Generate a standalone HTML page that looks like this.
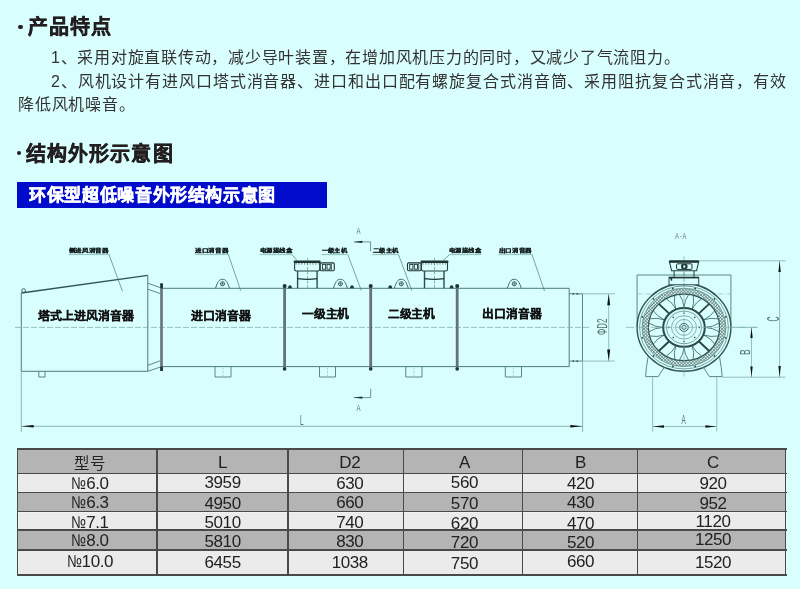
<!DOCTYPE html>
<html lang="zh-CN">
<head>
<meta charset="utf-8">
<style>
html,body{margin:0;padding:0;}
body{width:800px;height:589px;overflow:hidden;background:#d9fefe;position:relative;font-family:"Liberation Sans",sans-serif;color:#2a2a2a;}
.h{position:absolute;will-change:transform;font-weight:bold;font-size:20px;letter-spacing:1.1px;color:#231f20;white-space:nowrap;-webkit-text-stroke:0.5px #231f20;}
.dot{position:absolute;width:4.2px;height:4.2px;border-radius:50%;background:#231f20;}
.p{position:absolute;font-size:16px;color:#333;white-space:nowrap;will-change:transform;}
.bar{position:absolute;left:17px;top:181.7px;width:310px;height:26px;background:#000bcc;}
.bar span{position:absolute;will-change:transform;left:12.3px;top:-0.6px;color:#fff;font-weight:bold;font-size:17px;letter-spacing:0.65px;white-space:nowrap;-webkit-text-stroke:0.45px #fff;}
#tbl div{position:absolute;}
.rg{left:17.2px;width:768.5px;background:#b4b4b4;}
.rl{left:17.2px;width:768.5px;background:#ebebeb;box-shadow:inset 0 1px 0 #f3f3f3, inset 0 -1px 0 #f6f6f6;}
.hl{left:16.5px;width:770px;height:1.3px;background:#4a4a4a;}
.vl{top:448.3px;height:127.2px;width:1.3px;background:#4a4a4a;}
.c{will-change:transform;font-size:17px;line-height:20px;height:20px;margin-top:-3.3px;text-align:center;color:#222;letter-spacing:-0.4px;white-space:nowrap;}
.no{display:inline-block;width:15px;transform:scaleX(0.82);transform-origin:0 0;letter-spacing:0;}
svg{position:absolute;left:0;top:0;will-change:transform;}
</style>
</head>
<body>
<div class="dot" style="left:18.4px;top:24.5px;"></div>
<div class="h" style="left:27.7px;top:11.3px;">产品特点</div>
<div class="p" style="left:51px;top:43.7px;letter-spacing:0.75px;">1、采用对旋直联传动，减少导叶装置，在增加风机压力的同时，又减少了气流阻力。</div>
<div class="p" style="left:51px;top:67.6px;letter-spacing:0.89px;">2、风机设计有进风口塔式消音器、进口和出口配有螺旋复合式消音筒、采用阻抗复合式消音，有效</div>
<div class="p" style="left:18px;top:90.6px;letter-spacing:0.8px;">降低风机噪音。</div>
<div class="dot" style="left:16.5px;top:151.3px;"></div>
<div class="h" style="left:26px;top:138.2px;">结构外形示意图</div>
<div class="bar"><span>环保型超低噪音外形结构示意图</span></div>
<svg width="800" height="589" viewBox="0 0 800 589">
<path d="M21.3,293 L147.8,275.4" stroke="#2f5553" stroke-width="1.3" fill="none"/>
<path d="M21.3,293 L21.3,371.3 L147.8,371.3 L147.8,275.4" stroke="#4a7d79" stroke-width="1" fill="none"/>
<circle cx="23.6" cy="290.6" r="1.9" stroke="#2f5553" stroke-width="0.9" fill="none"/>
<line x1="147.8" y1="283.2" x2="160.2" y2="287.6" stroke="#4a7d79" stroke-width="0.9"/>
<line x1="147.8" y1="289.2" x2="160.2" y2="293.6" stroke="#4a7d79" stroke-width="0.9"/>
<line x1="147.8" y1="365.3" x2="160.2" y2="360.8" stroke="#4a7d79" stroke-width="0.9"/>
<line x1="147.8" y1="371.3" x2="160.2" y2="367.1" stroke="#4a7d79" stroke-width="0.9"/>
<path d="M162.6,288.3 H569.2 V366.6 H162.6" stroke="#4a7d79" stroke-width="1" fill="none"/>
<path d="M569.2,293.8 H582.5 V361.1 H569.2" stroke="#4a7d79" stroke-width="0.9" fill="none"/>
<path d="M572.5,293.8 h1.6 M576.5,293.8 h1.6 M572.5,361.1 h1.6 M576.5,361.1 h1.6" stroke="#1f3433" stroke-width="1.2"/>
<line x1="15" y1="327.4" x2="589" y2="327.4" stroke="#7fb0ac" stroke-width="0.8" stroke-dasharray="6 2"/>
<rect x="160.20" y="283.4" width="2.6" height="87.60000000000002" fill="#65727a"/>
<rect x="160.3" y="283.4" width="2.6" height="5" fill="#1f3433"/>
<rect x="160.3" y="366.5" width="2.6" height="4.5" fill="#1f3433"/>
<rect x="283.20" y="286" width="2.8" height="83.5" fill="#65727a"/>
<circle cx="284.6" cy="285.9" r="2" fill="#1f3433"/>
<circle cx="284.6" cy="369.0" r="1.8" fill="#1f3433"/>
<rect x="369.30" y="286" width="2.8" height="83.5" fill="#65727a"/>
<circle cx="370.7" cy="285.9" r="2" fill="#1f3433"/>
<circle cx="370.7" cy="369.0" r="1.8" fill="#1f3433"/>
<rect x="455.80" y="286" width="2.8" height="83.5" fill="#65727a"/>
<circle cx="457.2" cy="285.9" r="2" fill="#1f3433"/>
<circle cx="457.2" cy="369.0" r="1.8" fill="#1f3433"/>
<path d="M288.1,288.3 Q288.1,285.2 290.0,285.2 Q291.9,285.2 291.9,288.3 Z" fill="#1f3433"/>
<path d="M350.1,288.3 Q350.1,285.2 352.0,285.2 Q353.9,285.2 353.9,288.3 Z" fill="#1f3433"/>
<path d="M388.3,288.3 Q388.3,285.2 390.2,285.2 Q392.09999999999997,285.2 392.09999999999997,288.3 Z" fill="#1f3433"/>
<path d="M449.70000000000005,288.3 Q449.70000000000005,285.2 451.6,285.2 Q453.5,285.2 453.5,288.3 Z" fill="#1f3433"/>
<path d="M215.5,288.3 C217.5,282 219.0,279.3 222.5,279.3 C226.0,279.3 227.5,282 229.5,288.3" stroke="#3d6a67" stroke-width="1" fill="none"/>
<circle cx="222.5" cy="283.8" r="2.1" stroke="#34605d" stroke-width="0.9" fill="none"/>
<path d="M220.4,283.8 H224.6 M222.5,281.7 V285.9" stroke="#34605d" stroke-width="0.7"/>
<path d="M333.4,288.3 C335.4,282 336.9,279.3 340.4,279.3 C343.9,279.3 345.4,282 347.4,288.3" stroke="#3d6a67" stroke-width="1" fill="none"/>
<circle cx="340.4" cy="283.8" r="2.1" stroke="#34605d" stroke-width="0.9" fill="none"/>
<path d="M338.29999999999995,283.8 H342.5 M340.4,281.7 V285.9" stroke="#34605d" stroke-width="0.7"/>
<path d="M394.3,288.3 C396.3,282 397.8,279.3 401.3,279.3 C404.8,279.3 406.3,282 408.3,288.3" stroke="#3d6a67" stroke-width="1" fill="none"/>
<circle cx="401.3" cy="283.8" r="2.1" stroke="#34605d" stroke-width="0.9" fill="none"/>
<path d="M399.2,283.8 H403.40000000000003 M401.3,281.7 V285.9" stroke="#34605d" stroke-width="0.7"/>
<path d="M507.29999999999995,288.3 C509.29999999999995,282 510.79999999999995,279.3 514.3,279.3 C517.8,279.3 519.3,282 521.3,288.3" stroke="#3d6a67" stroke-width="1" fill="none"/>
<circle cx="514.3" cy="283.8" r="2.1" stroke="#34605d" stroke-width="0.9" fill="none"/>
<path d="M512.1999999999999,283.8 H516.4 M514.3,281.7 V285.9" stroke="#34605d" stroke-width="0.7"/>
<path d="M38.8,371.3 V377 H45 V371.3" stroke="#4a7d79" stroke-width="0.9" fill="none"/>
<path d="M215,366.6 V377 H231 V366.6" stroke="#4a7d79" stroke-width="0.9" fill="none"/>
<line x1="223.0" y1="367.6" x2="223.0" y2="376" stroke="#7fb0ac" stroke-width="0.6" stroke-dasharray="2 1.5"/>
<path d="M319.5,366.6 V377 H335.5 V366.6" stroke="#4a7d79" stroke-width="0.9" fill="none"/>
<line x1="327.5" y1="367.6" x2="327.5" y2="376" stroke="#7fb0ac" stroke-width="0.6" stroke-dasharray="2 1.5"/>
<path d="M405.8,366.6 V377 H422 V366.6" stroke="#4a7d79" stroke-width="0.9" fill="none"/>
<line x1="413.9" y1="367.6" x2="413.9" y2="376" stroke="#7fb0ac" stroke-width="0.6" stroke-dasharray="2 1.5"/>
<path d="M505.3,366.6 V377 H521.5 V366.6" stroke="#4a7d79" stroke-width="0.9" fill="none"/>
<line x1="513.4" y1="367.6" x2="513.4" y2="376" stroke="#7fb0ac" stroke-width="0.6" stroke-dasharray="2 1.5"/>
<rect x="320.20" y="262.9" width="14.10" height="7.8" rx="1.2" stroke="#1f3433" stroke-width="1.1" fill="#d9fefe"/>
<rect x="322.40" y="264.4" width="3.2" height="4.8" stroke="#1f3433" stroke-width="0.9" fill="none"/>
<rect x="327.00" y="264.4" width="3.2" height="4.8" stroke="#1f3433" stroke-width="0.9" fill="none"/>
<line x1="331.40" y1="263.5" x2="331.40" y2="270" stroke="#1f3433" stroke-width="0.8"/>
<path d="M294.6,262 V269.3 Q294.6,271 296.3,271 H318.0 Q319.7,271 319.7,269.3 V262" stroke="#27403e" stroke-width="1.1" fill="#d9fefe"/>
<rect x="293.6" y="260.4" width="27.099999999999966" height="2.5" rx="1.1" fill="#1f3433"/>
<line x1="295.6" y1="263.9" x2="318.7" y2="263.9" stroke="#1f3433" stroke-width="0.8" stroke-dasharray="1.2 1.6"/>
<path d="M297.6,271 V288.3 M317.1,271 V288.3" stroke="#2f4e4c" stroke-width="1.4" fill="none"/>
<path d="M297.6,278.6 Q307.6,280.2 317.1,278.6" stroke="#1f3433" stroke-width="1.4" fill="none"/>
<line x1="307.6" y1="258" x2="307.6" y2="288" stroke="#4a7d79" stroke-width="0.6" stroke-dasharray="3 1.5"/>
<rect x="407.50" y="262.9" width="13.50" height="7.8" rx="1.2" stroke="#1f3433" stroke-width="1.1" fill="#d9fefe"/>
<rect x="409.70" y="264.4" width="3.2" height="4.8" stroke="#1f3433" stroke-width="0.9" fill="none"/>
<rect x="414.30" y="264.4" width="3.2" height="4.8" stroke="#1f3433" stroke-width="0.9" fill="none"/>
<line x1="418.70" y1="263.5" x2="418.70" y2="270" stroke="#1f3433" stroke-width="0.8"/>
<path d="M421.5,262 V269.3 Q421.5,271 423.2,271 H445.8 Q447.5,271 447.5,269.3 V262" stroke="#27403e" stroke-width="1.1" fill="#d9fefe"/>
<rect x="420.5" y="260.4" width="28.0" height="2.5" rx="1.1" fill="#1f3433"/>
<line x1="422.5" y1="263.9" x2="446.5" y2="263.9" stroke="#1f3433" stroke-width="0.8" stroke-dasharray="1.2 1.6"/>
<path d="M424.5,271 V288.3 M444.0,271 V288.3" stroke="#2f4e4c" stroke-width="1.4" fill="none"/>
<path d="M424.5,278.6 Q434.5,280.2 444.0,278.6" stroke="#1f3433" stroke-width="1.4" fill="none"/>
<line x1="434.5" y1="258" x2="434.5" y2="288" stroke="#4a7d79" stroke-width="0.6" stroke-dasharray="3 1.5"/>
<path d="M353.8,241.9 H370.6 V251.3" stroke="#4a7d79" stroke-width="0.8" fill="none"/>
<path d="M353.8,241.9 L362.2,240.8 Q362.8,241.9 362.2,243 Z" fill="#1f3433"/>
<path d="M353.8,397.6 H370.7 V388.8" stroke="#4a7d79" stroke-width="0.8" fill="none"/>
<path d="M353.8,397.6 L362.2,396.5 Q362.8,397.6 362.2,398.7 Z" fill="#1f3433"/>
<line x1="21.3" y1="371.3" x2="21.3" y2="432" stroke="#7fb0ac" stroke-width="0.9"/>
<line x1="582.6" y1="361.2" x2="582.6" y2="432" stroke="#7fb0ac" stroke-width="0.9"/>
<line x1="21.3" y1="426.3" x2="582.6" y2="426.3" stroke="#7fb0ac" stroke-width="0.9"/>
<path d="M21.5,426.3 L33.5,425 Q34.3,426.3 33.5,427.6 Z" fill="#111"/>
<path d="M582.4,426.3 L570.5,425 Q569.7,426.3 570.5,427.6 Z" fill="#111"/>
<line x1="582.6" y1="293.8" x2="614.8" y2="293.8" stroke="#7fb0ac" stroke-width="0.8"/>
<line x1="582.6" y1="361.1" x2="614.8" y2="361.1" stroke="#7fb0ac" stroke-width="0.8"/>
<line x1="608.7" y1="293.8" x2="608.7" y2="361.1" stroke="#7fb0ac" stroke-width="0.8"/>
<path d="M608.7,294 L607.2,305.3 L610.2,305.3 Z" fill="#111"/>
<path d="M608.7,360.9 L607.2,349.6 L610.2,349.6 Z" fill="#111"/>
<line x1="108.8" y1="254" x2="122.5" y2="291.3" stroke="#4a7d79" stroke-width="0.7"/>
<line x1="228.2" y1="254" x2="240.7" y2="290.7" stroke="#4a7d79" stroke-width="0.7"/>
<line x1="292" y1="254.8" x2="297.4" y2="260.7" stroke="#4a7d79" stroke-width="0.7"/>
<line x1="347.8" y1="254.6" x2="361.3" y2="290.6" stroke="#4a7d79" stroke-width="0.7"/>
<line x1="398.5" y1="254.6" x2="411.9" y2="290.6" stroke="#4a7d79" stroke-width="0.7"/>
<line x1="450" y1="254" x2="443" y2="260.5" stroke="#4a7d79" stroke-width="0.7"/>
<line x1="531.8" y1="254" x2="544.5" y2="291" stroke="#4a7d79" stroke-width="0.7"/>
<path d="M637.1,327.4 V275 H730.9 V327.4" stroke="#4a7d79" stroke-width="0.9" fill="none"/>
<line x1="637" y1="294" x2="731" y2="294" stroke="#7fb0ac" stroke-width="0.6" stroke-dasharray="5 1.5 1 1.5"/>
<ellipse cx="684.0" cy="327.4" rx="46.9" ry="43.85" fill="#d9fefe"/>
<defs><pattern id="hp" width="2.3" height="2.3" patternUnits="userSpaceOnUse" patternTransform="rotate(45)"><rect width="2.3" height="2.3" fill="#d6f0ee"/><rect width="0.65" height="2.3" fill="#61837f"/><rect width="2.3" height="0.65" fill="#61837f"/></pattern></defs>
<path fill-rule="evenodd" fill="url(#hp)" d="M642.1,327.4 a41.9,39.18 0 1,0 83.8,0 a41.9,39.18 0 1,0 -83.8,0 Z M648.4,327.4 a35.6,33.29 0 1,0 71.2,0 a35.6,33.29 0 1,0 -71.2,0 Z"/>
<ellipse cx="684.0" cy="327.4" rx="46.9" ry="43.85" stroke="#2f5553" stroke-width="1.4" fill="none" />
<ellipse cx="684.0" cy="327.4" rx="44.4" ry="41.51" stroke="#4a7d79" stroke-width="0.7" fill="none" />
<ellipse cx="684.0" cy="327.4" rx="41.9" ry="39.18" stroke="#4a7d79" stroke-width="0.7" fill="none" />
<ellipse cx="684.0" cy="327.4" rx="35.6" ry="33.29" stroke="#2f5553" stroke-width="1.2" fill="none" />
<path d="M684.00,347.32 Q684.57,354.79 688.58,360.13 M684.00,347.32 Q683.43,354.79 679.42,360.13" stroke="#3b6865" stroke-width="0.85" fill="none"/>
<path d="M675.85,345.80 Q673.32,352.91 674.83,359.27 M675.85,345.80 Q672.26,352.50 666.38,356.00" stroke="#3b6865" stroke-width="0.85" fill="none"/>
<path d="M664.32,335.02 Q657.15,338.38 653.41,343.88 M664.32,335.02 Q656.72,337.39 649.91,335.97" stroke="#3b6865" stroke-width="0.85" fill="none"/>
<path d="M662.70,327.40 Q654.71,327.93 649.00,331.68 M662.70,327.40 Q654.71,326.87 649.00,323.12" stroke="#3b6865" stroke-width="0.85" fill="none"/>
<path d="M664.32,319.78 Q656.72,317.41 649.91,318.83 M664.32,319.78 Q657.15,316.42 653.41,310.92" stroke="#3b6865" stroke-width="0.85" fill="none"/>
<path d="M675.85,309.00 Q672.26,302.30 666.38,298.80 M675.85,309.00 Q673.32,301.89 674.83,295.53" stroke="#3b6865" stroke-width="0.85" fill="none"/>
<path d="M684.00,307.48 Q683.43,300.01 679.42,294.67 M684.00,307.48 Q684.57,300.01 688.58,294.67" stroke="#3b6865" stroke-width="0.85" fill="none"/>
<path d="M692.15,309.00 Q694.68,301.89 693.17,295.53 M692.15,309.00 Q695.74,302.30 701.62,298.80" stroke="#3b6865" stroke-width="0.85" fill="none"/>
<path d="M703.68,319.78 Q710.85,316.42 714.59,310.92 M703.68,319.78 Q711.28,317.41 718.09,318.83" stroke="#3b6865" stroke-width="0.85" fill="none"/>
<path d="M705.30,327.40 Q713.29,326.87 719.00,323.12 M705.30,327.40 Q713.29,327.93 719.00,331.68" stroke="#3b6865" stroke-width="0.85" fill="none"/>
<path d="M703.68,335.02 Q711.28,337.39 718.09,335.97 M703.68,335.02 Q710.85,338.38 714.59,343.88" stroke="#3b6865" stroke-width="0.85" fill="none"/>
<path d="M692.15,345.80 Q695.74,352.50 701.62,356.00 M692.15,345.80 Q694.68,352.91 693.17,359.27" stroke="#3b6865" stroke-width="0.85" fill="none"/>
<line x1="699.06" y1="341.48" x2="709.17" y2="350.94" stroke="#2a4644" stroke-width="1.9"/>
<line x1="668.94" y1="341.48" x2="658.83" y2="350.94" stroke="#2a4644" stroke-width="1.9"/>
<line x1="668.94" y1="313.32" x2="658.83" y2="303.86" stroke="#2a4644" stroke-width="1.9"/>
<line x1="699.06" y1="313.32" x2="709.17" y2="303.86" stroke="#2a4644" stroke-width="1.9"/>
<circle cx="725.73" cy="337.85" r="0.9" fill="#2a4644"/>
<circle cx="714.55" cy="355.96" r="0.9" fill="#2a4644"/>
<circle cx="695.18" cy="366.42" r="0.9" fill="#2a4644"/>
<circle cx="672.82" cy="366.42" r="0.9" fill="#2a4644"/>
<circle cx="653.45" cy="355.96" r="0.9" fill="#2a4644"/>
<circle cx="642.27" cy="337.85" r="0.9" fill="#2a4644"/>
<circle cx="642.27" cy="316.95" r="0.9" fill="#2a4644"/>
<circle cx="653.45" cy="298.84" r="0.9" fill="#2a4644"/>
<circle cx="672.82" cy="288.38" r="0.9" fill="#2a4644"/>
<circle cx="695.18" cy="288.38" r="0.9" fill="#2a4644"/>
<circle cx="714.55" cy="298.84" r="0.9" fill="#2a4644"/>
<circle cx="725.73" cy="316.95" r="0.9" fill="#2a4644"/>
<ellipse cx="684.0" cy="327.4" rx="20.8" ry="19.45" fill="#d9fefe"/>
<ellipse cx="684.0" cy="327.4" rx="20.8" ry="19.45" stroke="#2a4a48" stroke-width="2.0" fill="none" />
<ellipse cx="684.0" cy="327.4" rx="17.4" ry="16.27" stroke="#4a7d79" stroke-width="0.7" fill="none" />
<ellipse cx="684.0" cy="327.4" rx="12.5" ry="11.69" stroke="#4a7d79" stroke-width="0.6" fill="none" />
<ellipse cx="684.0" cy="327.4" rx="8.5" ry="7.95" stroke="#4a7d79" stroke-width="0.6" fill="none" />
<ellipse cx="684.0" cy="327.4" rx="4.3" ry="4.02" stroke="#2a4a48" stroke-width="0.9" fill="none" />
<ellipse cx="684.0" cy="327.4" rx="2.2" ry="2.06" stroke="#2a4a48" stroke-width="0.8" fill="none" />
<circle cx="699.20" cy="327.40" r="0.8" fill="#2a4644"/>
<circle cx="694.75" cy="337.45" r="0.8" fill="#2a4644"/>
<circle cx="684.00" cy="341.61" r="0.8" fill="#2a4644"/>
<circle cx="673.25" cy="337.45" r="0.8" fill="#2a4644"/>
<circle cx="668.80" cy="327.40" r="0.8" fill="#2a4644"/>
<circle cx="673.25" cy="317.35" r="0.8" fill="#2a4644"/>
<circle cx="684.00" cy="313.19" r="0.8" fill="#2a4644"/>
<circle cx="694.75" cy="317.35" r="0.8" fill="#2a4644"/>
<line x1="626" y1="327.4" x2="757.4" y2="327.4" stroke="#7fb0ac" stroke-width="0.7" stroke-dasharray="8 1.5 1.5 1.5"/>
<line x1="684.0" y1="256" x2="684.0" y2="377" stroke="#7fb0ac" stroke-width="0.7" stroke-dasharray="8 1.5 1.5 1.5"/>
<path d="M648,357.2 Q646,368 645.6,376.6 H658.2 L664.2,367.4" stroke="#4a7d79" stroke-width="0.9" fill="none"/>
<path d="M719.6,357.2 Q721.6,368 722.2,376.6 H709.4 L703.4,367.4" stroke="#4a7d79" stroke-width="0.9" fill="none"/>
<rect x="669" y="277.2" width="29.7" height="7.6" stroke="#2f4e4c" stroke-width="1" fill="#d9fefe"/>
<line x1="669" y1="277.7" x2="698.7" y2="277.7" stroke="#1f3433" stroke-width="1.4"/>
<path d="M670,277.6 l2.2,0 l0,3.2 l-1.2,0 z" fill="#1f3433"/>
<path d="M674.1,270.8 V277.2 M694,270.8 V277.2" stroke="#2f4e4c" stroke-width="1.1" fill="none"/>
<path d="M669.4,261.6 H698.7 L696.6,270.8 H671.6 Z" stroke="#27403e" stroke-width="1.1" fill="#d9fefe"/>
<rect x="669.0" y="260.2" width="30.1" height="2.5" rx="1.1" fill="#1f3433"/>
<rect x="676.6" y="263.8" width="15.4" height="5.6" rx="1" stroke="#1f3433" stroke-width="1" fill="none"/>
<ellipse cx="684.3" cy="266.6" rx="3.3" ry="3" fill="#1f3433"/>
<ellipse cx="684.3" cy="266.6" rx="1.1" ry="1.5" fill="#cfeeee"/>
<line x1="684.0" y1="262" x2="684.0" y2="286" stroke="#4a7d79" stroke-width="0.6" stroke-dasharray="4 1.2"/>
<line x1="699" y1="260.8" x2="785.7" y2="260.8" stroke="#7fb0ac" stroke-width="0.8"/>
<line x1="722" y1="377.2" x2="785.4" y2="377.2" stroke="#7fb0ac" stroke-width="0.8"/>
<line x1="779.6" y1="260.8" x2="779.6" y2="377.2" stroke="#7fb0ac" stroke-width="0.8"/>
<path d="M779.6,261 L778.4,272 L780.8,272 Z" fill="#111"/>
<path d="M779.6,377 L778.4,366 L780.8,366 Z" fill="#111"/>
<line x1="751.5" y1="327.4" x2="751.5" y2="377.2" stroke="#7fb0ac" stroke-width="0.8"/>
<line x1="731" y1="327.3" x2="757.4" y2="327.3" stroke="#7fb0ac" stroke-width="0.8"/>
<path d="M751.5,327.6 L750.3,338 L752.7,338 Z" fill="#111"/>
<path d="M751.5,377 L750.3,366.5 L752.7,366.5 Z" fill="#111"/>
<line x1="652.6" y1="377" x2="652.6" y2="431.5" stroke="#7fb0ac" stroke-width="0.8"/>
<line x1="716.8" y1="377" x2="716.8" y2="431.5" stroke="#7fb0ac" stroke-width="0.8"/>
<line x1="652.6" y1="426.5" x2="716.8" y2="426.5" stroke="#7fb0ac" stroke-width="0.8"/>
<path d="M652.8,426.5 L664,425.3 L664,427.7 Z" fill="#111"/>
<path d="M716.6,426.5 L705.4,425.3 L705.4,427.7 Z" fill="#111"/>
<line x1="68.8" y1="254.6" x2="108.8" y2="254.6" stroke="#94c4c0" stroke-width="1"/>
<text x="0" y="0" transform="translate(68.8,251.7) scale(1,0.76)" font-family="Liberation Sans, sans-serif" font-size="6.6" font-weight="bold" fill="#142020" stroke="#142020" stroke-width="0.3" textLength="40.0" lengthAdjust="spacingAndGlyphs">侧进风消音器</text>
<line x1="195" y1="254.6" x2="228.3" y2="254.6" stroke="#94c4c0" stroke-width="1"/>
<text x="0" y="0" transform="translate(195,251.7) scale(1,0.76)" font-family="Liberation Sans, sans-serif" font-size="6.6" font-weight="bold" fill="#142020" stroke="#142020" stroke-width="0.3" textLength="33.3" lengthAdjust="spacingAndGlyphs">进口消音器</text>
<line x1="259.5" y1="254.6" x2="292.4" y2="254.6" stroke="#94c4c0" stroke-width="1"/>
<text x="0" y="0" transform="translate(259.5,251.7) scale(1,0.76)" font-family="Liberation Sans, sans-serif" font-size="6.6" font-weight="bold" fill="#142020" stroke="#142020" stroke-width="0.3" textLength="32.9" lengthAdjust="spacingAndGlyphs">电源接线盒</text>
<line x1="321.5" y1="254.6" x2="347.3" y2="254.6" stroke="#94c4c0" stroke-width="1"/>
<text x="0" y="0" transform="translate(321.5,251.7) scale(1,0.76)" font-family="Liberation Sans, sans-serif" font-size="6.6" font-weight="bold" fill="#142020" stroke="#142020" stroke-width="0.3" textLength="25.8" lengthAdjust="spacingAndGlyphs">一级主机</text>
<line x1="372.5" y1="254.6" x2="398.5" y2="254.6" stroke="#94c4c0" stroke-width="1"/>
<text x="0" y="0" transform="translate(372.5,251.7) scale(1,0.76)" font-family="Liberation Sans, sans-serif" font-size="6.6" font-weight="bold" fill="#142020" stroke="#142020" stroke-width="0.3" textLength="26.0" lengthAdjust="spacingAndGlyphs">二级主机</text>
<line x1="448.8" y1="254.6" x2="481.2" y2="254.6" stroke="#94c4c0" stroke-width="1"/>
<text x="0" y="0" transform="translate(448.8,251.7) scale(1,0.76)" font-family="Liberation Sans, sans-serif" font-size="6.6" font-weight="bold" fill="#142020" stroke="#142020" stroke-width="0.3" textLength="32.4" lengthAdjust="spacingAndGlyphs">电源接线盒</text>
<line x1="498.8" y1="254.6" x2="531.8" y2="254.6" stroke="#94c4c0" stroke-width="1"/>
<text x="0" y="0" transform="translate(498.8,251.7) scale(1,0.76)" font-family="Liberation Sans, sans-serif" font-size="6.6" font-weight="bold" fill="#142020" stroke="#142020" stroke-width="0.3" textLength="33.0" lengthAdjust="spacingAndGlyphs">出口消音器</text>
<text x="37.5" y="319.6" font-family="Liberation Sans, sans-serif" font-size="11.9" font-weight="bold" fill="#111" stroke="#111" stroke-width="0.25" textLength="96.4" lengthAdjust="spacingAndGlyphs">塔式上进风消音器</text>
<text x="191.2" y="319.6" font-family="Liberation Sans, sans-serif" font-size="11.9" font-weight="bold" fill="#111" stroke="#111" stroke-width="0.25" textLength="60.0" lengthAdjust="spacingAndGlyphs">进口消音器</text>
<text x="302" y="318.0" font-family="Liberation Sans, sans-serif" font-size="11.9" font-weight="bold" fill="#111" stroke="#111" stroke-width="0.25" textLength="47.3" lengthAdjust="spacingAndGlyphs">一级主机</text>
<text x="387.7" y="318.0" font-family="Liberation Sans, sans-serif" font-size="11.9" font-weight="bold" fill="#111" stroke="#111" stroke-width="0.25" textLength="47.3" lengthAdjust="spacingAndGlyphs">二级主机</text>
<text x="482.3" y="318.0" font-family="Liberation Sans, sans-serif" font-size="11.9" font-weight="bold" fill="#111" stroke="#111" stroke-width="0.25" textLength="59.4" lengthAdjust="spacingAndGlyphs">出口消音器</text>
<text x="356.6" y="234.4" font-family="Liberation Sans, sans-serif" font-size="8.6" fill="#4f6d6b" transform="translate(356.6,234.4) scale(0.7,1) translate(-356.6,-234.4)">A</text>
<text x="356.6" y="411.2" font-family="Liberation Sans, sans-serif" font-size="8.6" fill="#4f6d6b" transform="translate(356.6,411.2) scale(0.7,1) translate(-356.6,-411.2)">A</text>
<text x="0" y="0" font-family="Liberation Sans, sans-serif" font-size="14.6" fill="#4f6d6b" transform="translate(300.0,425) scale(0.44,1)">L</text>
<text x="674.9" y="239.3" font-family="Liberation Sans, sans-serif" font-size="9.2" fill="#4f6d6b" letter-spacing="1.6" transform="translate(674.9,239.3) scale(0.62,1) translate(-674.9,-239.3)">A-A</text>
<text x="681.6" y="424.4" font-family="Liberation Sans, sans-serif" font-size="12.5" fill="#4f6d6b" transform="translate(681.6,424.4) scale(0.5,1) translate(-681.6,-424.4)">A</text>
<text font-family="Liberation Sans, sans-serif" font-size="15.3" fill="#4f6d6b" transform="translate(606.9,335) rotate(-90) scale(0.52,1)">ΦD2</text>
<text font-family="Liberation Sans, sans-serif" font-size="15.5" fill="#4f6d6b" transform="translate(750.4,354.9) rotate(-90) scale(0.55,1)">B</text>
<text font-family="Liberation Sans, sans-serif" font-size="16.5" fill="#4f6d6b" transform="translate(778.8,321.6) rotate(-90) scale(0.42,1)">C</text>
</svg>
<div id="tbl">
<div class="rg" style="top:448.9px;height:24.4px;"></div>
<div class="rl" style="top:473.3px;height:19.4px;"></div>
<div class="rg" style="top:492.7px;height:18.8px;"></div>
<div class="rl" style="top:511.5px;height:18.4px;"></div>
<div class="rg" style="top:529.9px;height:20.2px;"></div>
<div class="rl" style="top:550.1px;height:24.8px;"></div>
<div class="hl" style="top:448.25px;"></div>
<div class="hl" style="top:472.65px;"></div>
<div class="hl" style="top:492.05px;"></div>
<div class="hl" style="top:510.85px;"></div>
<div class="hl" style="top:529.25px;"></div>
<div class="hl" style="top:549.45px;"></div>
<div class="hl" style="top:574.25px;"></div>
<div class="vl" style="left:16.55px;"></div>
<div class="vl" style="left:156.25px;"></div>
<div class="vl" style="left:287.45px;"></div>
<div class="vl" style="left:402.95px;"></div>
<div class="vl" style="left:521.85px;"></div>
<div class="vl" style="left:636.95px;"></div>
<div class="vl" style="left:785.05px;"></div>
<div class="c" style="left:20.20px;width:139.7px;top:456.9px;font-size:15.4px;letter-spacing:1.2px;">型号</div>
<div class="c" style="left:156.90px;width:131.2px;top:456.4px;">L</div>
<div class="c" style="left:291.85px;width:115.5px;top:456.4px;">D2</div>
<div class="c" style="left:405.35px;width:118.9px;top:456.4px;">A</div>
<div class="c" style="left:523.00px;width:115.1px;top:456.4px;">B</div>
<div class="c" style="left:638.80px;width:148.1px;top:456.4px;">C</div>
<div class="c" style="left:20.20px;width:139.7px;top:477.0px;"><span class="no">№</span>6.0</div>
<div class="c" style="left:156.90px;width:131.2px;top:476.5px;">3959</div>
<div class="c" style="left:291.85px;width:115.5px;top:477.3px;">630</div>
<div class="c" style="left:405.35px;width:118.9px;top:476.4px;">560</div>
<div class="c" style="left:523.00px;width:115.1px;top:477.0px;">420</div>
<div class="c" style="left:638.80px;width:148.1px;top:477.7px;">920</div>
<div class="c" style="left:20.20px;width:139.7px;top:496.6px;"><span class="no">№</span>6.3</div>
<div class="c" style="left:156.90px;width:131.2px;top:497.0px;">4950</div>
<div class="c" style="left:291.85px;width:115.5px;top:496.6px;">660</div>
<div class="c" style="left:405.35px;width:118.9px;top:496.9px;">570</div>
<div class="c" style="left:523.00px;width:115.1px;top:496.0px;">430</div>
<div class="c" style="left:638.80px;width:148.1px;top:496.9px;">952</div>
<div class="c" style="left:20.20px;width:139.7px;top:516.2px;"><span class="no">№</span>7.1</div>
<div class="c" style="left:156.90px;width:131.2px;top:516.1px;">5010</div>
<div class="c" style="left:291.85px;width:115.5px;top:516.2px;">740</div>
<div class="c" style="left:405.35px;width:118.9px;top:516.9px;">620</div>
<div class="c" style="left:523.00px;width:115.1px;top:516.9px;">470</div>
<div class="c" style="left:638.80px;width:148.1px;top:514.8px;">1120</div>
<div class="c" style="left:20.20px;width:139.7px;top:534.7px;"><span class="no">№</span>8.0</div>
<div class="c" style="left:156.90px;width:131.2px;top:534.8px;">5810</div>
<div class="c" style="left:291.85px;width:115.5px;top:535.3px;">830</div>
<div class="c" style="left:405.35px;width:118.9px;top:536.2px;">720</div>
<div class="c" style="left:523.00px;width:115.1px;top:536.2px;">520</div>
<div class="c" style="left:638.80px;width:148.1px;top:533.5px;">1250</div>
<div class="c" style="left:20.20px;width:139.7px;top:555.4px;"><span class="no">№</span>10.0</div>
<div class="c" style="left:156.90px;width:131.2px;top:555.8px;">6455</div>
<div class="c" style="left:291.85px;width:115.5px;top:555.8px;">1038</div>
<div class="c" style="left:405.35px;width:118.9px;top:557.5px;">750</div>
<div class="c" style="left:523.00px;width:115.1px;top:555.4px;">660</div>
<div class="c" style="left:638.80px;width:148.1px;top:556.7px;">1520</div>
</div>
</body>
</html>
